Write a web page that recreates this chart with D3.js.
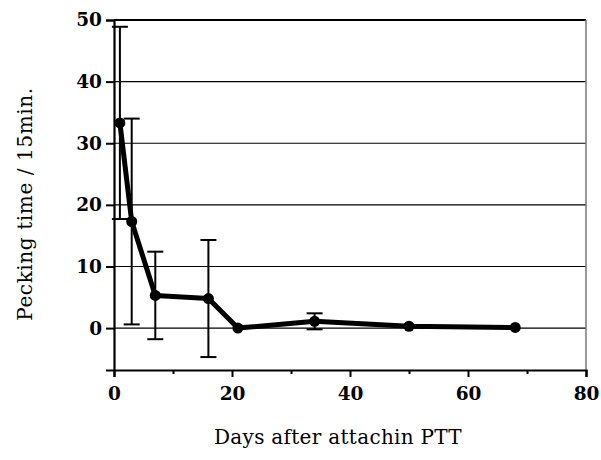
<!DOCTYPE html>
<html>
  <head>
    <meta charset="utf-8" />
    <title>Pecking time after attaching PTT</title>
    <style>
      body { margin: 0; background: #fff; }
      svg text { font-family: "DejaVu Serif", serif; fill: #000; }
      .tick text { font-size: 18.5px; font-weight: bold; }
      .title { font-size: 20px; letter-spacing: 0.3px; }
    </style>
  </head>
  <body>
    <div id="chart"></div>
    <script src="https://d3js.org/d3.v7.min.js"></script>
    <script>
      // data
      var days = [1, 3, 7, 16, 21, 34, 50, 68];
      var pecking = [33.3, 17.3, 5.3, 4.8, 0.0, 1.1, 0.3, 0.1];
      var errors = [15.6, 16.7, 7.1, 9.5, 0, 1.3, 0, 0];
      var xTicks = [0, 20, 40, 60, 80];
      var yTicks = [0, 10, 20, 30, 40, 50];

      var width = 601, height = 460;
      var margin = { top: 20, right: 15, bottom: 90, left: 114 };

      var svg = d3.select("#chart").append("svg")
        .attr("width", width)
        .attr("height", height);

      var x = d3.scaleLinear().domain([0, 80]).range([margin.left, width - margin.right]);
      var y = d3.scaleLinear().domain([-6.8, 50]).range([height - margin.bottom, margin.top]);

      // gridlines
      svg.append("g")
        .selectAll("line")
        .data(yTicks)
        .enter().append("line")
        .attr("x1", x(0)).attr("x2", x(80))
        .attr("y1", d => y(d)).attr("y2", d => y(d))
        .attr("stroke", "#000")
        .attr("stroke-width", d => d === 50 ? 2 : 1.2);

      // right border
      svg.append("line")
        .attr("x1", x(80)).attr("x2", x(80))
        .attr("y1", y(50)).attr("y2", y(-6.8))
        .attr("stroke", "#777").attr("stroke-width", 1.5);

      // x axis
      svg.append("g")
        .attr("transform", "translate(0," + y(-6.8) + ")")
        .call(d3.axisBottom(x).tickValues(xTicks).tickSize(7).tickPadding(10));
      svg.append("g")
        .attr("transform", "translate(0," + y(-6.8) + ")")
        .call(d3.axisBottom(x).tickValues([10, 30, 50, 70]).tickSize(4).tickFormat(""))
        .call(g => g.select(".domain").remove());

      // y axis
      svg.append("g")
        .attr("transform", "translate(" + x(0) + ",0)")
        .call(d3.axisLeft(y).tickValues(yTicks).tickSize(8).tickPadding(4));

      svg.selectAll(".domain").attr("stroke-width", 2.2);
      svg.selectAll(".tick line").attr("stroke-width", 2);

      // error bars
      var eb = svg.append("g").attr("stroke", "#000").attr("stroke-width", 2);
      days.forEach(function(d, i) {
        if (!errors[i]) return;
        var cx = x(d), hi = y(pecking[i] + errors[i]), lo = y(pecking[i] - errors[i]);
        eb.append("line").attr("x1", cx).attr("x2", cx).attr("y1", hi).attr("y2", lo);
        eb.append("line").attr("x1", cx - 8).attr("x2", cx + 8).attr("y1", hi).attr("y2", hi);
        eb.append("line").attr("x1", cx - 8).attr("x2", cx + 8).attr("y1", lo).attr("y2", lo);
      });

      // line
      var line = d3.line().x((d, i) => x(days[i])).y(d => y(d));
      svg.append("path")
        .datum(pecking)
        .attr("d", line)
        .attr("fill", "none")
        .attr("stroke", "#000")
        .attr("stroke-width", 5)
        .attr("stroke-linejoin", "round");

      svg.append("g")
        .selectAll("circle")
        .data(pecking)
        .enter().append("circle")
        .attr("cx", (d, i) => x(days[i]))
        .attr("cy", d => y(d))
        .attr("r", 5.5)
        .attr("fill", "#000");

      // axis titles
      svg.append("text")
        .attr("class", "title")
        .attr("x", 338).attr("y", 444)
        .attr("text-anchor", "middle")
        .text("Days after attachin PTT");

      svg.append("text")
        .attr("class", "title")
        .attr("transform", "translate(32,204) rotate(-90)")
        .attr("text-anchor", "middle")
        .style("letter-spacing", "0.6px")
        .text("Pecking time / 15min.");
    </script>
  </body>
</html>
